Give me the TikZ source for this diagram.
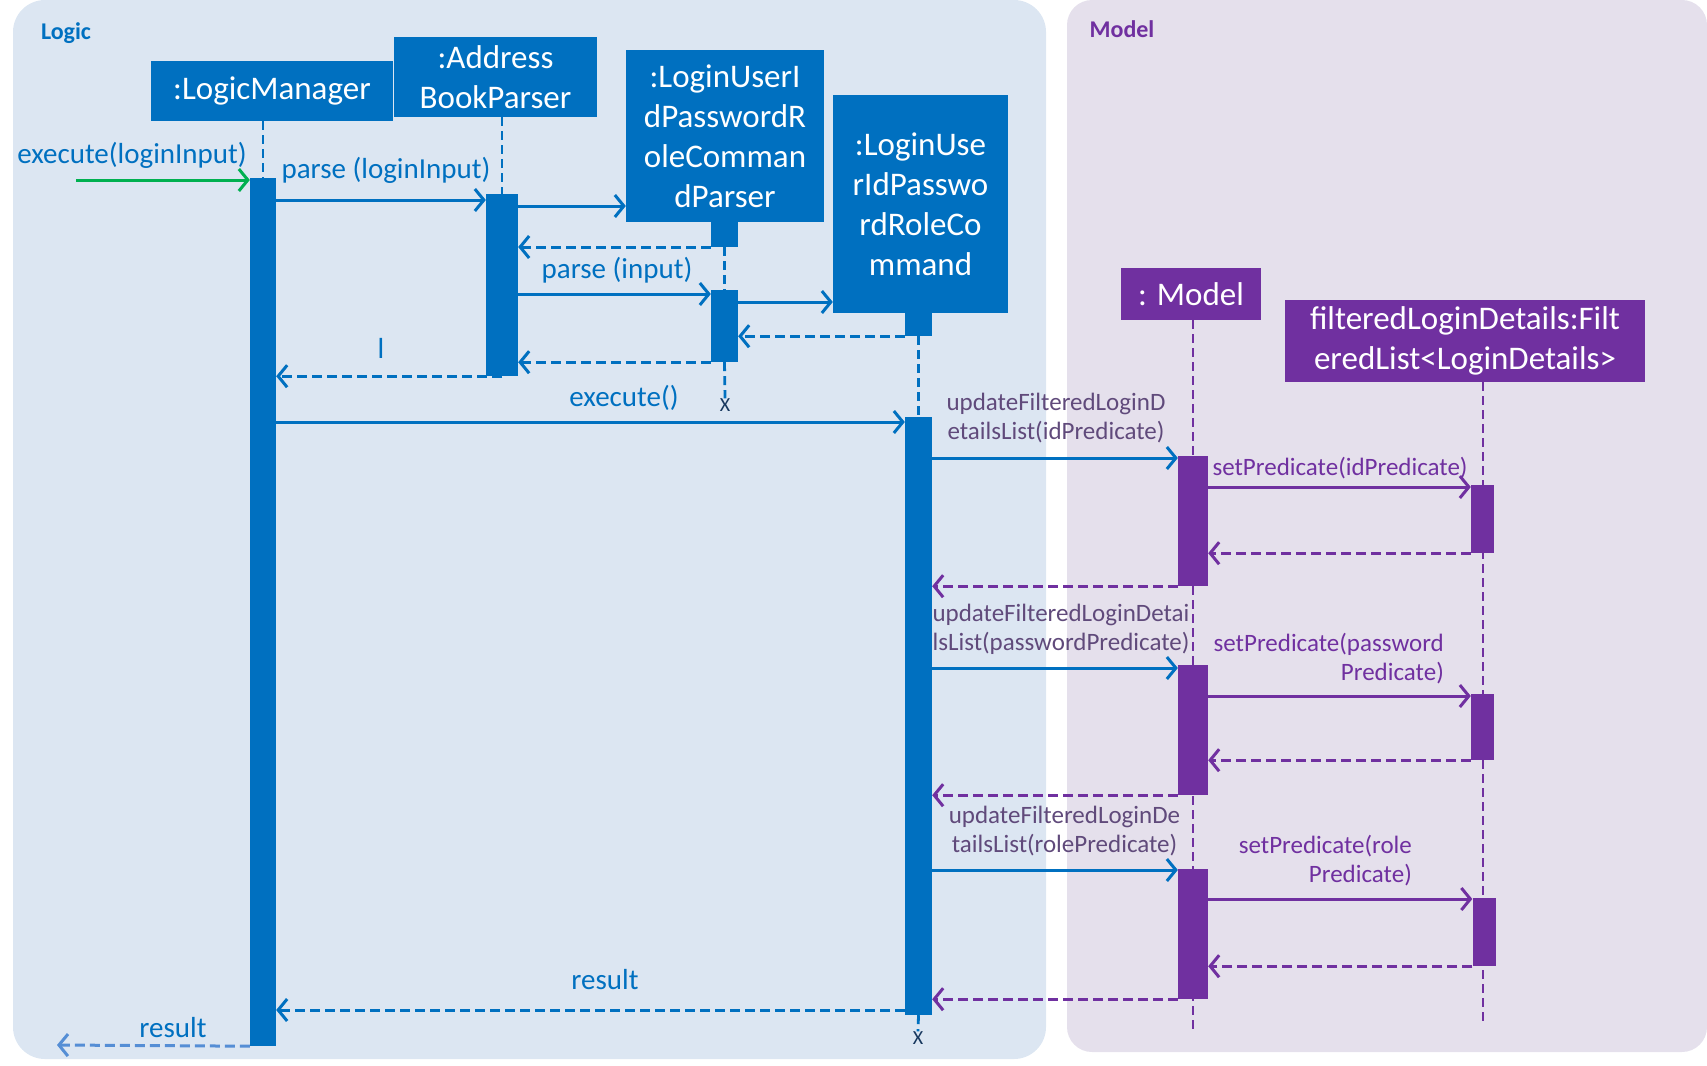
\documentclass[tikz,border=0pt]{standalone}
\usepackage{fontspec}
\setmainfont{Carlito}
\usepackage{tikz}
\usetikzlibrary{arrows.meta,positioning,calc}
\usepackage{xcolor}
\definecolor{seqblue}{RGB}{0,112,192}
\definecolor{seqpurple}{RGB}{112,48,160}
\definecolor{seqgrey}{RGB}{96,74,123}
\definecolor{seqgreen}{RGB}{0,176,80}
\definecolor{seqlight}{RGB}{85,142,213}
\definecolor{seqnavy}{RGB}{23,55,94}
\definecolor{logicbg}{RGB}{220,230,242}
\definecolor{modelbg}{RGB}{229,224,236}

\begin{document}
\begin{tikzpicture}[
    x=1pt, y=-1pt,
    obj/.style={fill=seqblue, text=white, inner sep=0pt, align=center, font=\fontsize{33}{40}\selectfont},
    objm/.style={obj, fill=seqpurple},
    bar/.style={fill=seqblue, inner sep=0pt, minimum width=26pt},
    barm/.style={bar, fill=seqpurple, minimum width=30pt},
    life/.style={seqblue, line width=2.8pt, dash pattern=on 9pt off 5pt},
    lifem/.style={life, seqpurple},
    msg/.style={-{Straight Barb[length=9pt,width=22pt]}, line width=3pt, seqblue},
    ret/.style={msg, dash pattern=on 10pt off 5pt},
    msgm/.style={msg, seqpurple},
    retm/.style={ret, seqpurple},
    lbl/.style={inner sep=0pt, text=seqblue, font=\fontsize{29}{32}\selectfont},
    lblm/.style={inner sep=0pt, text=seqgrey, align=center, font=\fontsize{25}{29}\selectfont},
    lblp/.style={lblm, text=seqpurple, align=right, anchor=east},
    xmark/.style={inner sep=0pt, text=seqnavy, font=\fontsize{20}{20}\selectfont}
]
\useasboundingbox (0,0) rectangle (1707,1065);

% Panels
\fill[logicbg, rounded corners=32pt] (13,0) rectangle (1046,1059);
\fill[modelbg, rounded corners=25pt] (1067,0) rectangle (1707,1052);
\node[inner sep=0pt, text=seqblue, font=\fontsize{24}{24}\selectfont\bfseries] (logic) at (66,33) {Logic};
\node[inner sep=0pt, text=seqpurple, font=\fontsize{24}{24}\selectfont\bfseries] (model) at (1122,29) {Model};

% Objects
\node[obj, minimum width=242pt, minimum height=60pt] (lm) at (272,91) {:LogicManager};
\node[obj, minimum width=203pt, minimum height=80pt] (abp) at (495.5,77) {:Address\\BookParser};
\node[obj, minimum width=198pt, minimum height=172pt] (psr) at (725,136) {:LoginUserI\\dPasswordR\\oleComman\\dParser};
\node[obj, minimum width=175pt, minimum height=218pt] (cmd) at (920.5,204) {:LoginUse\\rIdPasswo\\rdRoleCo\\mmand};
\node[objm, minimum width=140pt, minimum height=52pt] (mdl) at (1191,294) {: Model};
\node[objm, minimum width=360pt, minimum height=82pt] (fl) at (1465,341) {filteredLoginDetails:Filt\\eredList<LoginDetails>};

% Activation bars
\node[bar, minimum height=868pt] (lmbar) at (263,612) {};
\node[bar, minimum width=32pt, minimum height=182pt] (abpbar) at (502,285) {};
\node[bar, minimum width=27pt, minimum height=25pt] (psrtop) at (724.5,234.5) {};
\node[bar, minimum width=27pt, minimum height=72pt] (psrbar) at (724.5,326) {};
\node[bar, minimum width=27pt, minimum height=23pt] (cmdtop) at (918.5,324.5) {};
\node[bar, minimum width=27pt, minimum height=598pt] (cmdbar) at (918.5,716) {};

% Ends of lifelines
\node[xmark] (psrx) at (725,405) {X};
\node[xmark] (cmdx) at (918,1038) {X};
\coordinate (mdlend) at (1193,1032);
\coordinate (flend) at (1483,1022);

% Lifelines
\draw[life] (lm.south -| lmbar) -- (lmbar.north);
\draw[life] (abp.south -| abpbar) -- (abpbar.north);
\draw[life] (psrtop.south) -- (psrbar.north);
\draw[life] (psrbar.south) -- (psrx.north);
\draw[life] (cmdtop.south) -- (cmdbar.north);
\draw[life] (cmdbar.south) -- (cmdx.north);
\draw[lifem] (mdl.south -| mdlend) -- (mdlend);
\draw[lifem] (fl.south -| flend) -- (flend);

% Model side bars
\foreach \n/\y in {1/521, 2/730, 3/934}
  \node[barm, minimum height=130pt] (mdlbar\n) at (1193,\y) {};
\node[barm, minimum width=23pt, minimum height=68pt] (flbar1) at (1482.5,519) {};
\node[barm, minimum width=23pt, minimum height=66pt] (flbar2) at (1482.5,727) {};
\node[barm, minimum width=23pt, minimum height=68pt] (flbar3) at (1484,932) {};

% Messages in Logic
\coordinate (start) at (76,180);
\coordinate (finish) at (57,1045);
\draw[msg, seqgreen] (start) -- (lmbar.west |- start);
\draw[msg] (lmbar.east |- 0,200) -- (abpbar.west |- 0,200);
\draw[msg] (abpbar.east |- 0,206) -- (psr.west |- 0,206);
\draw[ret] (psrtop.west |- 0,247) -- (abpbar.east |- 0,247);
\draw[msg] (abpbar.east |- 0,294) -- (psrbar.west |- 0,294);
\draw[msg] (psrbar.east |- 0,302) -- (cmd.west |- 0,302);
\draw[ret] (cmdtop.south west) -- (psrbar.east |- cmdtop.south);
\draw[ret] (psrbar.south west) -- (abpbar.east |- psrbar.south);
\draw[ret] (abpbar.south) -- (lmbar.east |- abpbar.south);
\draw[msg] (lmbar.east |- 0,422) -- (cmdbar.west |- 0,422);

% Messages in Model
\foreach \n/\y in {1/458, 2/668, 3/870}
  \draw[msg] (cmdbar.east |- 0,\y) -- (mdlbar\n.west |- 0,\y);
\foreach \n/\y in {1/487, 2/696, 3/899}
  \draw[msgm] (mdlbar\n.east |- 0,\y) -- (flbar\n.west |- 0,\y);
\foreach \n in {1,2,3} {
  \draw[retm] (flbar\n.south west) -- (mdlbar\n.east |- flbar\n.south);
  \draw[retm] (mdlbar\n.south west) -- (cmdbar.east |- mdlbar\n.south);
}

% Results
\draw[ret] (cmdbar.west |- 0,1010) -- (lmbar.east |- 0,1010);
\draw[ret, seqlight] (lmbar.south west) -- (finish);

% Labels
\node[lbl] (lexec) at (132,155) {execute(loginInput)};
\node[lbl] (lparse) at (386,170) {parse (loginInput)};
\node[lbl] (linput) at (617,270) {parse (input)};
\node[lbl] (lbar) at (381,348) {l};
\node[lbl] (lrun) at (624,398) {execute()};
\node[lblm] (lupd1) at (1056,418) {updateFilteredLoginD\\etailsList(idPredicate)};
\node[lblm] (lupd2) at (1061,629.5) {updateFilteredLoginDetai\\lsList(passwordPredicate)};
\node[lblm] (lupd3) at (1064.5,831) {updateFilteredLoginDe\\tailsList(rolePredicate)};
\node[lblm, text=seqpurple] (lset1) at (1340,468) {setPredicate(idPredicate)};
\node[lblp] (lset2) at (1444,658.5) {setPredicate(password\\Predicate)};
\node[lblp] (lset3) at (1412,860.5) {setPredicate(role\\Predicate)};
\node[lbl] (lres) at (605,980) {result};
\node[lbl] (lres2) at (173,1028) {result};

\end{tikzpicture}
\end{document}
